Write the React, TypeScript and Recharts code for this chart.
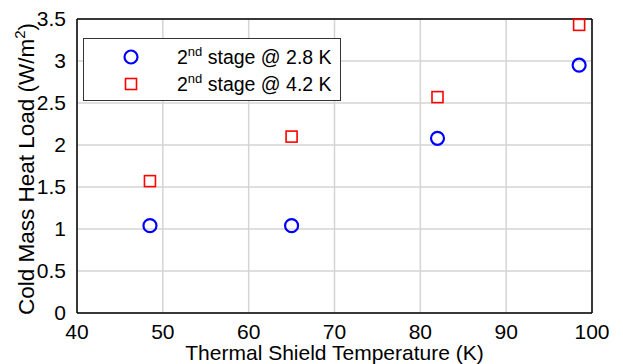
import {
  CartesianGrid,
  Scatter,
  ScatterChart,
  XAxis,
  YAxis,
} from 'recharts';

const shieldTemps: number[] = [48.5, 65, 82, 98.5];
const load28K: number[] = [1.04, 1.04, 2.08, 2.95];
const load42K: number[] = [1.57, 2.1, 2.57, 3.43];
const xTicks: number[] = [40, 50, 60, 70, 80, 90, 100];
const yTicks: number[] = [0, 0.5, 1, 1.5, 2, 2.5, 3, 3.5];
const seriesLabels: string[] = ['stage @ 2.8 K', 'stage @ 4.2 K'];

const FONT = '"Liberation Sans", Arial, Helvetica, sans-serif';

const stage28 = shieldTemps.map((x, i) => ({ x, y: load28K[i] }));
const stage42 = shieldTemps.map((x, i) => ({ x, y: load42K[i] }));

const Circle = (p: any) => (
  <circle cx={p.cx} cy={p.cy} r={6.5} fill="none" stroke="#0000ff" strokeWidth={2.2} />
);

const Square = (p: any) => (
  <rect x={p.cx - 5.5} y={p.cy - 5.5} width={11} height={11} fill="none" stroke="#ff0000" strokeWidth={1.6} />
);

const YLabel = () => (
  <text x={34} y={169} transform="rotate(-90, 34, 169)" textAnchor="middle" fontSize={22.5} fontFamily={FONT} fill="#000">
    Cold Mass Heat Load (W/m
    <tspan dy={-9} fontSize={15}>2</tspan>
    <tspan dy={9}>)</tspan>
  </text>
);

// legend drawn over the plot, like the MATLAB inset box
const LegendBox = () => (
  <div
    style={{
      position: 'absolute',
      left: 83,
      top: 38,
      width: 256,
      height: 61,
      border: '1.5px solid #333',
      background: '#fff',
      fontFamily: FONT,
      fontSize: 19.5,
      color: '#000',
    }}
  >
    {seriesLabels.map((s, i) => (
      <div key={s} style={{ position: 'absolute', left: 0, top: 5 + i * 27, height: 24, width: 256 }}>
        <svg width={20} height={20} style={{ position: 'absolute', left: 37, top: 3 }}>
          {i === 0 ? (
            <circle cx={10} cy={10} r={6.5} fill="none" stroke="#0000ff" strokeWidth={2.2} />
          ) : (
            <rect x={4.5} y={4.5} width={11} height={11} fill="none" stroke="#ff0000" strokeWidth={1.6} />
          )}
        </svg>
        <span style={{ position: 'absolute', left: 93, top: 0, whiteSpace: 'nowrap', lineHeight: '26px' }}>
          2<sup style={{ fontSize: 13, verticalAlign: 'top', lineHeight: '16px' }}>nd</sup> {s}
        </span>
      </div>
    ))}
  </div>
);

const axisLine = { stroke: '#000', strokeWidth: 1.5 };
const tickLine = { stroke: '#000', strokeWidth: 1.5 };
const tickFont = { fill: '#000', fontSize: 21, fontFamily: FONT };
const blank = () => '';

const App = () => {
  return (
    <div style={{ position: 'absolute', left: 0, top: 0, width: 623, height: 364 }}>
      <ScatterChart width={623} height={364} margin={{ top: 19, right: 31, bottom: 0, left: 0 }}>
        <CartesianGrid stroke="#d4d4d4" strokeWidth={1.5} />
        <XAxis
          dataKey="x"
          type="number"
          domain={[40, 100]}
          ticks={xTicks}
          height={51}
          tickLine={false}
          axisLine={axisLine}
          tick={tickFont}
          tickMargin={5}
          interval={0}
          label={{
            value: 'Thermal Shield Temperature (K)',
            position: 'insideBottom',
            offset: 4,
            fill: '#000',
            fontSize: 21,
            fontFamily: FONT,
          }}
        />
        <YAxis
          dataKey="y"
          type="number"
          domain={[0, 3.5]}
          ticks={yTicks}
          width={77}
          tickLine={false}
          axisLine={axisLine}
          tick={tickFont}
          tickMargin={5}
          interval={0}
          label={<YLabel />}
        />
        <XAxis xAxisId="bm" type="number" domain={[40, 100]} ticks={xTicks} mirror tickSize={6} tickFormatter={blank} axisLine={false} tickLine={tickLine} interval={0} />
        <XAxis xAxisId="tm" orientation="top" type="number" domain={[40, 100]} ticks={xTicks} mirror tickSize={6} tickFormatter={blank} axisLine={axisLine} tickLine={tickLine} interval={0} />
        <YAxis yAxisId="lm" type="number" domain={[0, 3.5]} ticks={yTicks} mirror tickSize={6} tickFormatter={blank} axisLine={false} tickLine={tickLine} interval={0} />
        <YAxis yAxisId="rm" orientation="right" type="number" domain={[0, 3.5]} ticks={yTicks} mirror tickSize={6} tickFormatter={blank} axisLine={axisLine} tickLine={tickLine} interval={0} />
        <Scatter name={seriesLabels[0]} data={stage28} shape={Circle} isAnimationActive={false} />
        <Scatter name={seriesLabels[1]} data={stage42} shape={Square} isAnimationActive={false} />
      </ScatterChart>
      <LegendBox />
    </div>
  );
};

export default App;
